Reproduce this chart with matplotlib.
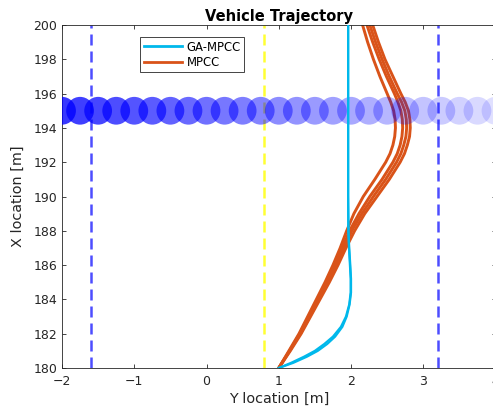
import matplotlib
matplotlib.use("Agg")
import matplotlib.pyplot as plt

# obstacle circles along X = 195
obs_y = [-2.0, -1.75, -1.5, -1.25, -1.0, -0.75, -0.5, -0.25, 0.0, 0.25, 0.5, 0.75,
         1.0, 1.25, 1.5, 1.75, 2.0, 2.25, 2.5, 2.75, 3.0, 3.25, 3.5, 3.75, 4.0]
obs_x = 195

# lane boundaries and center line
bound_left = -1.6
bound_right = 3.2
center_line = 0.8

# GA-MPCC runs (x location, y location)
ga_x = [180, 180.3, 180.66, 181.0, 181.4, 181.83, 182.4, 183.0, 183.7, 184.4, 185.2, 186, 187, 188, 190, 200]
ga_y1 = [1.0, 1.2, 1.39, 1.54, 1.67, 1.78, 1.88, 1.94, 1.98, 2.0, 2.0, 1.99, 1.975, 1.965, 1.96, 1.96]
ga_y2 = [1.0, 1.17, 1.35, 1.50, 1.63, 1.75, 1.86, 1.93, 1.975, 1.995, 1.995, 1.985, 1.972, 1.963, 1.96, 1.96]

# MPCC runs
mp_x = [180, 181, 182, 183, 184, 185, 186, 187, 188, 189, 190, 191, 192, 192.5, 193, 193.5,
        194, 194.5, 195, 195.5, 196, 197, 198, 199, 200]
mp_runs = [
    [1.0, 1.14, 1.28, 1.40, 1.52, 1.64, 1.75, 1.85, 1.94, 2.04, 2.17, 2.33, 2.48, 2.54, 2.58, 2.605,
     2.615, 2.61, 2.59, 2.55, 2.50, 2.40, 2.31, 2.23, 2.16],
    [1.0, 1.15, 1.29, 1.42, 1.54, 1.66, 1.77, 1.88, 1.98, 2.11, 2.26, 2.43, 2.58, 2.64, 2.68, 2.705,
     2.715, 2.71, 2.69, 2.65, 2.60, 2.49, 2.39, 2.30, 2.22],
    [1.0, 1.15, 1.30, 1.43, 1.55, 1.68, 1.79, 1.90, 2.01, 2.15, 2.31, 2.48, 2.63, 2.69, 2.73, 2.76,
     2.77, 2.765, 2.745, 2.70, 2.64, 2.53, 2.43, 2.34, 2.26],
    [1.0, 1.16, 1.31, 1.44, 1.57, 1.70, 1.82, 1.93, 2.05, 2.19, 2.36, 2.53, 2.68, 2.74, 2.78, 2.81,
     2.82, 2.815, 2.795, 2.75, 2.69, 2.58, 2.47, 2.38, 2.30],
]

cyan = (0.0, 0.72, 0.92)
orange = (0.85, 0.325, 0.098)
axcol = (0.15, 0.15, 0.15)

fig = plt.figure(figsize=(4.93, 4.12), dpi=100)
ax = fig.add_axes([0.1258, 0.1068, 0.8793, 0.8325])

ax.axvline(bound_left, color=(0.3, 0.3, 1.0), lw=1.8, dashes=(4.4, 2.4), zorder=1)
ax.axvline(bound_right, color=(0.3, 0.3, 1.0), lw=1.8, dashes=(4.4, 2.4), zorder=1)
ax.axvline(center_line, color=(1.0, 1.0, 0.2), lw=1.8, dashes=(4.4, 2.4), zorder=1)

for i, run in enumerate(mp_runs):
    ax.plot(run, mp_x, color=orange, lw=2.1, zorder=2, solid_joinstyle="round",
            label="MPCC" if i == 0 else None)

n = len(obs_y)
for i, oy in enumerate(obs_y):
    a = 0.78 - 0.66 * i / (n - 1)
    ax.scatter([oy], [obs_x], s=400, color=(0, 0, 1), alpha=a, edgecolors="none", zorder=3)

ax.plot(ga_y1, ga_x, color=cyan, lw=1.6, zorder=4, label="GA-MPCC", solid_joinstyle="round")
ax.plot(ga_y2, ga_x, color=cyan, lw=1.6, zorder=4, solid_joinstyle="round")

ax.set_xlim(-2, 4)
ax.set_ylim(180, 200)
ax.set_xticks([-2, -1, 0, 1, 2, 3, 4])
ax.set_yticks(range(180, 201, 2))
ax.tick_params(direction="in", length=3, width=0.6, colors=axcol, labelsize=9,
               top=True, right=True)
ax.tick_params(axis="x", pad=5)
for sp in ax.spines.values():
    sp.set_color(axcol)
    sp.set_linewidth(0.6)

ax.set_xlabel("Y location [m]", fontsize=10.4, color=axcol, labelpad=3)
ax.set_ylabel("X location [m]", fontsize=10.4, color=axcol, labelpad=6)
ax.set_title("Vehicle Trajectory", fontsize=10.5, fontweight="bold", pad=3)

h, l = ax.get_legend_handles_labels()
order = [l.index("GA-MPCC"), l.index("MPCC")]
leg = ax.legend([h[k] for k in order], [l[k] for k in order], loc="upper left",
                bbox_to_anchor=(0.18, 0.965), borderaxespad=0, fontsize=8.4,
                handlelength=3.3, borderpad=0.3, labelspacing=0.2, handletextpad=0.4,
                fancybox=False, framealpha=1, edgecolor=axcol)
leg.get_frame().set_linewidth(0.6)
for lh in leg.get_lines():
    lh.set_linewidth(2.0)

fig.savefig("out.png", dpi=100)
